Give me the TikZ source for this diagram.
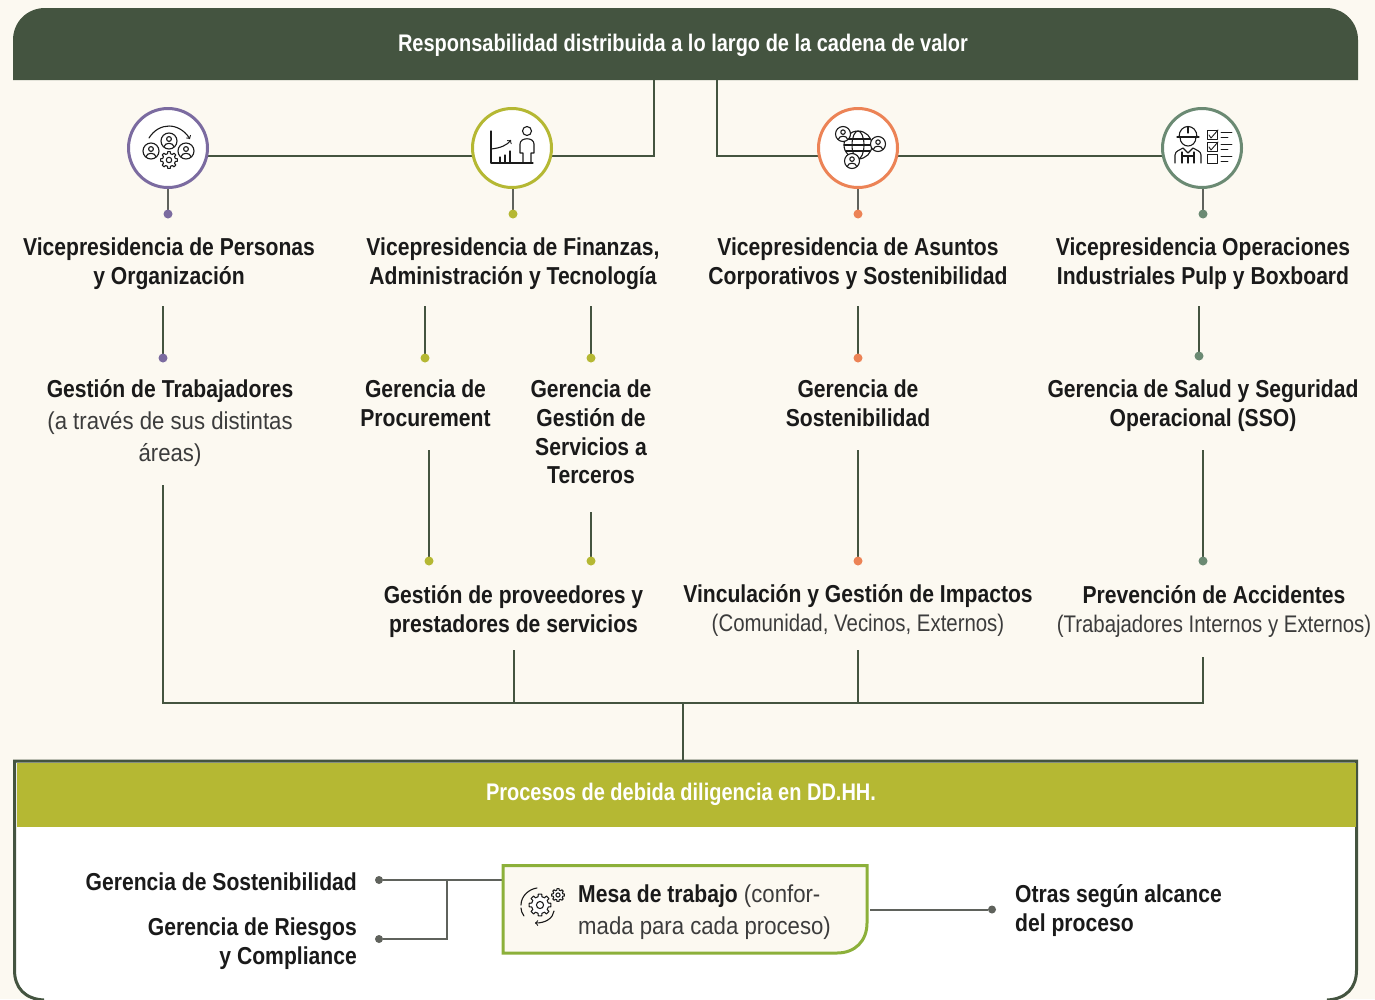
\documentclass[tikz,border=0pt]{standalone}
\usepackage{fontspec}
\setmainfont{Liberation Sans}
\newfontfamily\cond[FakeStretch=0.862]{Liberation Sans}
\newfontfamily\condt[FakeStretch=0.833]{Liberation Sans}
\newfontfamily\condl[FakeStretch=0.85]{Liberation Sans}
\newfontfamily\condw[FakeStretch=0.905]{Liberation Sans}
\definecolor{bgc}{HTML}{FCF9F1}
\definecolor{darkg}{HTML}{445440}
\definecolor{oliveg}{HTML}{B5B833}
\definecolor{purp}{HTML}{7B6BA0}
\definecolor{orng}{HTML}{EC8356}
\definecolor{sage}{HTML}{6B8A73}
\definecolor{boxg}{HTML}{8CB03A}
\definecolor{greyl}{HTML}{5F625C}
\definecolor{ink}{HTML}{1A1A1A}
\tikzset{
 x=1pt,y=-1pt,
 head/.style={font=\cond\fontsize{24.5}{28.7}\selectfont\bfseries,text=ink,align=center,inner sep=0pt},
 sub/.style={font=\condl\fontsize{24}{29}\selectfont,text=ink!85,align=center,inner sep=0pt},
 subw/.style={font=\condw\fontsize{24.5}{32}\selectfont,text=ink!85,align=center,inner sep=0pt},
 band/.style={font=\condt\fontsize{24}{28}\selectfont\bfseries,text=white,inner sep=0pt},
 conn/.style={draw=darkg,line width=2pt},
 gconn/.style={draw=greyl,line width=2pt},
 ring/.style={circle,draw=#1,fill=white,line width=3pt,minimum size=79pt,inner sep=0pt},
 dot/.style={circle,fill=#1,minimum size=9pt,inner sep=0pt},
 gdot/.style={circle,fill=greyl,minimum size=8pt,inner sep=0pt},
 ic/.style={draw=ink,line width=1.1pt,line cap=round,line join=round},
 pics/usr/.style={code={
   \draw[ic,fill=white] (0,0) circle (#1);
   \draw[ic] (0,{-0.25*#1}) circle ({0.3*#1});
   \draw[ic] ({-0.62*#1},{0.72*#1}) .. controls ({-0.55*#1},{0.15*#1}) and ({0.55*#1},{0.15*#1}) .. ({0.62*#1},{0.72*#1});
 }},
 pics/cog/.style={code={
   \draw[ic,fill=white] ({cos(-13)*#1},{sin(-13)*#1})
     \foreach \a in {0,45,...,315}{
       -- ({cos(\a-13)*#1},{sin(\a-13)*#1}) -- ({cos(\a-9)*#1*1.3},{sin(\a-9)*#1*1.3}) -- ({cos(\a+9)*#1*1.3},{sin(\a+9)*#1*1.3}) -- ({cos(\a+13)*#1},{sin(\a+13)*#1})
     } -- cycle;
   \draw[ic] (0,0) circle ({0.42*#1});
 }}
}
\begin{document}
\begin{tikzpicture}
\useasboundingbox (0,0) rectangle (1375,999);
\fill[bgc] (0,0) rectangle (1375,999);

% top band and lower panel
\begin{scope}
\clip (0,0) rectangle (1375,999);
\fill[white] (44,1000) .. controls (25,999) and (14.5,988) .. (14.5,970) -- (14.5,761) -- (1356.5,761) -- (1356.5,970) .. controls (1356.5,988) and (1346,999) .. (1327,1000) -- cycle;
\draw[darkg,line width=3pt] (44,1000) .. controls (25,999) and (14.5,988) .. (14.5,970) -- (14.5,761) -- (1356.5,761) -- (1356.5,970) .. controls (1356.5,988) and (1346,999) .. (1327,1000);
\end{scope}
\fill[darkg] (13,80) -- (13,40) .. controls (13,22) and (27,8) .. (45,8) -- (1326,8) .. controls (1344,8) and (1358,22) .. (1358,40) -- (1358,80) -- cycle;
\node[band] (title) at (683,45) {Responsabilidad distribuida a lo largo de la cadena de valor};
\coordinate (barL) at (654,80);
\coordinate (barR) at (717,80);

\fill[oliveg] (17,763) rectangle (1356,827);
\node[band] (ddhh) at (681,794) {Procesos de debida diligencia en DD.HH.};
\coordinate (panelTop) at (683,760);

% free ends
\coordinate (s1) at (163,306); \coordinate (s2) at (425,306); \coordinate (s3) at (591,306);
\coordinate (s4) at (858,306); \coordinate (s5) at (1199,306);
\coordinate (t2) at (429,450); \coordinate (t3) at (591,512); \coordinate (t4) at (858,450); \coordinate (t5) at (1203,450);
\coordinate (u1) at (163,485); \coordinate (u2) at (513.5,650); \coordinate (u3) at (858,650); \coordinate (u4) at (1203,657);
\coordinate (bus) at (683,703);

% dot positions
\coordinate (pd1) at (168,214); \coordinate (pd2) at (513,214); \coordinate (pd3) at (858,214); \coordinate (pd4) at (1203,214);
\coordinate (pe1) at (163,358); \coordinate (pe2) at (425,358); \coordinate (pe3) at (591,358); \coordinate (pe4) at (858,358); \coordinate (pe5) at (1199,356);
\coordinate (pf2) at (429,561); \coordinate (pf3) at (591,561); \coordinate (pf4) at (858,561); \coordinate (pf5) at (1203,561);

% connectors under rings and dots
\foreach \a/\b in {s1/pe1,s2/pe2,s3/pe3,s4/pe4,s5/pe5,t2/pf2,t3/pf3,t4/pf4,t5/pf5} \draw[conn] (\a) -- (\b);
\draw[conn] (168,156) -- (512,156);
\draw[conn] (512,156) -- (654,156) -- (barL);
\draw[conn] (barR) -- (717,156) -- (858,156);
\draw[conn] (858,156) -- (1202,156);
\draw[conn,draw=greyl] (168,148) -- (pd1);
\draw[conn,draw=greyl] (513,148) -- (pd2);
\draw[conn,draw=greyl] (858,148) -- (pd3);
\draw[conn,draw=greyl] (1203,148) -- (pd4);

% rings
\node[ring=purp] (r1) at (168,148) {};
\node[ring=oliveg] (r2) at (512,148) {};
\node[ring=orng] (r3) at (858,148) {};
\node[ring=sage] (r4) at (1202,148) {};

% dots
\node[dot=purp] (d1) at (pd1) {};
\node[dot=oliveg] (d2) at (pd2) {};
\node[dot=orng] (d3) at (pd3) {};
\node[dot=sage] (d4) at (pd4) {};
\node[dot=purp] (e1) at (pe1) {};
\node[dot=oliveg] (e2) at (pe2) {};
\node[dot=oliveg] (e3) at (pe3) {};
\node[dot=orng] (e4) at (pe4) {};
\node[dot=sage] (e5) at (pe5) {};
\node[dot=oliveg] (f2) at (pf2) {};
\node[dot=oliveg] (f3) at (pf3) {};
\node[dot=orng] (f4) at (pf4) {};
\node[dot=sage] (f5) at (pf5) {};

\draw[conn] (u1) -- (163,703) -- (1203,703) -- (u4);
\draw[conn] (u2) -- (513.5,703);
\draw[conn] (u3) -- (858,703);
\draw[conn] (bus) -- (panelTop);

% texts
\node[head] (v1) at (169,263.5) {Vicepresidencia de Personas\\y Organización};
\node[head] (v2) at (513,263.5) {Vicepresidencia de Finanzas,\\Administración y Tecnología};
\node[head] (v3) at (858,263.5) {Vicepresidencia de Asuntos\\Corporativos y Sostenibilidad};
\node[head] (v4) at (1203,263.5) {Vicepresidencia Operaciones\\Industriales Pulp y Boxboard};
\node[head] (g1) at (170,391.5) {Gestión de Trabajadores};
\node[subw] (g1b) at (170,439) {(a través de sus distintas\\áreas)};
\node[head] (g2) at (425.5,403) {Gerencia de\\Procurement};
\node[head] (g3) at (591,432) {Gerencia de\\Gestión de\\Servicios a\\Terceros};
\node[head] (g4) at (858,403) {Gerencia de\\Sostenibilidad};
\node[head] (g5) at (1203,406) {Gerencia de Salud y Seguridad\\Operacional (SSO)};
\node[head] (h2) at (513.5,611.5) {Gestión de proveedores y\\prestadores de servicios};
\node[head] (h3) at (858,596) {Vinculación y Gestión de Impactos};
\node[sub] (h3b) at (858,625) {(Comunidad, Vecinos, Externos)};
\node[head] (h4) at (1214,595) {Prevención de Accidentes};
\node[sub] (h4b) at (1214,626) {(Trabajadores Internos y Externos)};

% lower panel
\node[head,anchor=east] (l1) at (357,882) {Gerencia de Sostenibilidad};
\node[head,anchor=east,align=right] (l2) at (357,943.5) {Gerencia de Riesgos\\y Compliance};
\node[gdot] (ld1) at (379,880) {};
\node[gdot] (ld2) at (379,939) {};
\node[gdot] (rd) at (992,909.5) {};
\node[head,anchor=west,align=left] (otras) at (1015,910.5) {Otras según alcance\\del proceso};
\node[minimum width=364pt,minimum height=88pt,inner sep=0pt] (mesa) at (685,909) {};
\draw[gconn] (ld1) -- (mesa.west |- ld1);
\draw[gconn] (ld2) -- (447,939) -- (447,880);
\draw[gconn] (870,909.5) -- (rd);
\draw[boxg,fill=bgc,line width=3pt] (503,865.5) -- (867,865.5) -- (867,923) .. controls (867,941) and (855,953) .. (837,953) -- (503,953) -- cycle;
\node[subw,anchor=west,align=left] (mesat) at (578,912) {{\cond\bfseries\color{ink}Mesa de trabajo} (confor-\\mada para cada proceso)};

% icon 1
\begin{scope}[shift={(169,150)}]
\pic at (-18,1) {usr=8};
\pic at (17,1) {usr=8};
\pic at (0,10) {cog=6.5};
\pic at (0,-9) {usr=8};
\draw[ic,->] (-20,-12) .. controls (-10,-28) and (10,-28) .. (21,-11);
\end{scope}
% icon 2
\begin{scope}[shift={(513,148)}]
\draw[ic] (-22,-17) -- (-22,15) -- (20,15);
\draw[ic,->] (-22,1) .. controls (-12,0) and (-6,-3) .. (-2,-8);
\draw[ic] (-13,15) -- (-13,9) (-8,15) -- (-8,7) (-3,15) -- (-3,3);
\draw[ic] (14,-17) circle (4.5);
\draw[ic] (10,15) -- (10,5) -- (7,5) -- (7,-4) .. controls (7,-11) and (21,-11) .. (21,-4) -- (21,5) -- (18,5) -- (18,15);
\end{scope}
% icon 3
\begin{scope}[shift={(858,145)}]
\draw[ic] (0,0) circle (14);
\draw[ic] (0,0) ellipse (6 and 14);
\draw[ic] (-14,0) -- (14,0) (-12,-6) -- (12,-6) (-12,6) -- (12,6);
\pic at (-15,-11) {usr=7.5};
\pic at (20,-1) {usr=7.5};
\pic at (-6,16) {usr=7.5};
\end{scope}
% icon 4
\begin{scope}[shift={(1202,148)}]
\draw[ic] (-23,-11) .. controls (-23,-25) and (-5,-25) .. (-5,-11);
\draw[ic] (-25,-11) -- (-3,-11) (-14,-21) -- (-14,-15);
\draw[ic] (-22,-11) .. controls (-22,1) and (-6,1) .. (-6,-11);
\draw[ic] (-27,15) -- (-27,7) .. controls (-27,3) and (-22,2) .. (-19,0) -- (-14,5) -- (-9,0) .. controls (-6,2) and (-1,3) .. (-1,7) -- (-1,15);
\draw[ic] (-20,15) -- (-20,4) (-8,15) -- (-8,4) (-20,8) -- (-8,8) (-14,8) -- (-14,15);
\foreach \yy in {-13,-1,11}{
  \draw[ic,line width=0.9pt] (5,{\yy-4.5}) rectangle (15,{\yy+4.5});
  \draw[ic,line width=0.9pt] (19,{\yy-2.5}) -- (30,{\yy-2.5}) (19,{\yy+2}) -- (26,{\yy+2});
}
\draw[ic,line width=0.9pt] (7,-13) -- (9,-10) -- (16,-18) (7,-1) -- (9,2) -- (16,-6);
\end{scope}
% icon mesa
\begin{scope}[shift={(540,905)}]
\pic at (0,0) {cog=8.5};
\pic at (18,-10) {cog=5};
\draw[ic] (-3,-17) .. controls (-11,-16) and (-19,-9) .. (-19,0);
\draw[ic] (-16,11) .. controls (-18,8) and (-19,6) .. (-19,3);
\draw[ic,->] (14,6) .. controls (13,13) and (6,18) .. (-5,18);
\end{scope}
\end{tikzpicture}
\end{document}
